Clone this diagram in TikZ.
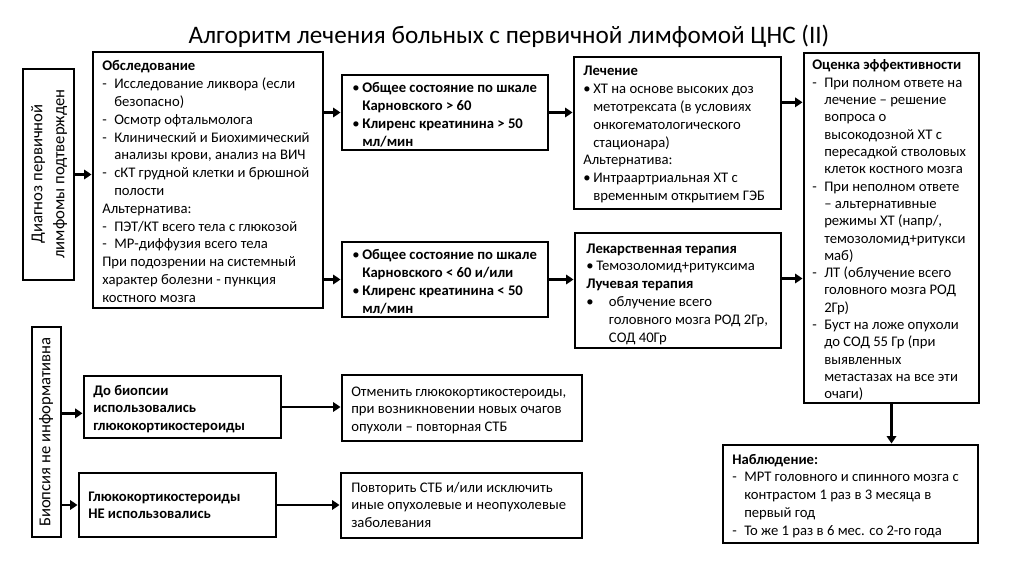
\documentclass[tikz,border=0pt]{standalone}
\usepackage{fontspec}
\setmainfont{Carlito}
\usetikzlibrary{arrows.meta,fit}
\newcommand\mydash{\makebox[9pt][l]{-}}
\newcommand\myind{\hspace*{9pt}}
\newcommand\mybul{\makebox[7.5pt][l]{•}}
\newcommand\myindb{\hspace*{7.5pt}}
\newcommand\mytab[1]{\begin{tabular}[t]{@{}l@{}}#1\end{tabular}}
\begin{document}
\begin{tikzpicture}[x=0.75pt,y=-0.75pt,
  box/.style={draw, line width=2.2pt, inner sep=0pt},
  txt/.style={anchor=base west, inner sep=0pt, font=\fontsize{11}{13.35}\selectfont},
  rot/.style={align=center, inner sep=0pt, rotate=90, font=\fontsize{12.5}{16.5}\selectfont},
  arr/.style={line width=2pt, -{Triangle[length=5.5pt,width=7pt]}}]
\useasboundingbox (0,0) rectangle (1019,573);

\node[font=\fontsize{18.9}{22}\selectfont, inner sep=0pt] (title) at (509,36) {Алгоритм лечения больных с первичной лимфомой ЦНС (II)};

% boxes
\node[box, fit={(23,69) (74,280)}] (diag) {};
\node[box, fit={(93,52) (323,308)}] (exam) {};
\node[box, fit={(342,75) (548,150)}] (mtop) {};
\node[box, fit={(342,242) (548,317)}] (mbot) {};
\node[box, fit={(574,57) (781,209)}] (treat1) {};
\node[box, fit={(575,233) (781,348)}] (treat2) {};
\node[box, fit={(804,53) (979,403)}] (eval) {};
\node[box, fit={(723,445) (978,543)}] (obs) {};
\node[box, fit={(32,327) (61,537)}] (biop) {};
\node[box, fit={(84,376) (281,438)}] (gk1) {};
\node[box, fit={(79,473) (276,537)}] (gk2) {};
\node[box, fit={(342,375) (582,441)}] (r1) {};
\node[box, fit={(341,473) (582,538)}] (r2) {};

% rotated texts
\node[rot] (diagT) at (49,174) {Диагноз первичной\\лимфомы подтвержден};
\node[rot] (biopT) at (46,432) {Биопсия не информативна};

% texts
\node[txt] (examT) at (102,71) {\mytab{\textbf{Обследование}\\
\mydash Исследование ликвора (если\\
\myind безопасно)\\
\mydash Осмотр офтальмолога\\
\mydash Клинический и Биохимический\\
\myind анализы крови, анализ на ВИЧ\\
\mydash сКТ грудной клетки и брюшной\\
\myind полости\\
Альтернатива:\\
\mydash ПЭТ/КТ всего тела с глюкозой\\
\mydash МР-диффузия всего тела\\
При подозрении на системный\\
характер болезни - пункция\\
костного мозга}};

\node[txt] (mtopT) at (352,93) {\mytab{\mybul\textbf{Общее состояние по шкале}\\
\myindb\textbf{Карновского > 60}\\
\mybul\textbf{Клиренс креатинина > 50}\\
\myindb\textbf{мл/мин}}};

\node[txt] (mbotT) at (352,260) {\mytab{\mybul\textbf{Общее состояние по шкале}\\
\myindb\textbf{Карновского < 60 и/или}\\
\mybul\textbf{Клиренс креатинина < 50}\\
\myindb\textbf{мл/мин}}};

\node[txt] (treat1T) at (583,76) {\mytab{\textbf{Лечение}\\
\mybul ХТ на основе высоких доз\\
\myindb метотрексата (в условиях\\
\myindb онкогематологического\\
\myindb стационара)\\
Альтернатива:\\
\mybul Интраартриальная ХТ с\\
\myindb временным открытием ГЭБ}};

\node[txt] (treat2T) at (586,253) {\mytab{\textbf{Лекарственная терапия}\\
\mybul Темозоломид+ритуксима\\
\textbf{Лучевая терапия}\\
\makebox[17pt][l]{•}облучение всего\\
\hspace*{17pt}головного мозга РОД 2Гр,\\
\hspace*{17pt}СОД 40Гр}};

\node[txt, font=\fontsize{11}{12.98}\selectfont] (evalT) at (812,70) {\mytab{\textbf{Оценка эффективности}\\
\mydash При полном ответе на\\
\myind лечение – решение\\
\myind вопроса о\\
\myind высокодозной ХТ с\\
\myind пересадкой стволовых\\
\myind клеток костного мозга\\
\mydash При неполном ответе\\
\myind – альтернативные\\
\myind режимы ХТ (напр/,\\
\myind темозоломид+ритукси\\
\myind маб)\\
\mydash ЛТ (облучение всего\\
\myind головного мозга РОД\\
\myind 2Гр)\\
\mydash Буст на ложе опухоли\\
\myind до СОД 55 Гр (при\\
\myind выявленных\\
\myind метастазах на все эти\\
\myind очаги)}};

\node[txt] (obsT) at (732,464) {\mytab{\textbf{Наблюдение:}\\
\mydash МРТ головного и спинного мозга с\\
\myind контрастом 1 раз в 3 месяца в\\
\myind первый год\\
\mydash То же 1 раз в 6 мес. со 2-го года}};

\node[txt] (gk1T) at (93,395) {\mytab{\textbf{До биопсии}\\
\textbf{использовались}\\
\textbf{глюкокортикостероиды}}};

\node[txt] (gk2T) at (88,501) {\mytab{\textbf{Глюкокортикостероиды}\\
\textbf{НЕ использовались}}};

\node[txt] (r1T) at (351,396) {\mytab{Отменить глюкокортикостероиды,\\
при возникновении новых очагов\\
опухоли – повторная СТБ}};

\node[txt] (r2T) at (351,492) {\mytab{Повторить СТБ и/или исключить\\
иные опухолевые и неопухолевые\\
заболевания}};

% connectors
\draw[arr] (diag.east) -- (diag.east -| exam.west);
\draw[arr] (exam.east |- mtop.west) -- (mtop.west);
\draw[arr] (exam.east |- mbot.west) -- (mbot.west);
\draw[arr] (mtop.east) -- (mtop.east -| treat1.west);
\draw[arr] (mbot.east) -- (mbot.east -| treat2.west);
\coordinate (a1) at ([yshift=23pt]treat1.east);
\coordinate (a2) at ([yshift=9pt]treat2.east);
\draw[arr] (a1) -- (a1 -| eval.west);
\draw[arr] (a2) -- (a2 -| eval.west);
\draw[arr] (eval.south) -- (eval.south |- obs.north);
\coordinate (b1) at ([yshift=14pt]biop.east);
\draw[arr] (b1) -- (b1 -| gk1.west);
\draw[arr] (biop.east |- gk2.west) -- (gk2.west);
\draw[arr] (gk1.east) -- (gk1.east -| r1.west);
\draw[arr] (gk2.east) -- (gk2.east -| r2.west);
\end{tikzpicture}
\end{document}
